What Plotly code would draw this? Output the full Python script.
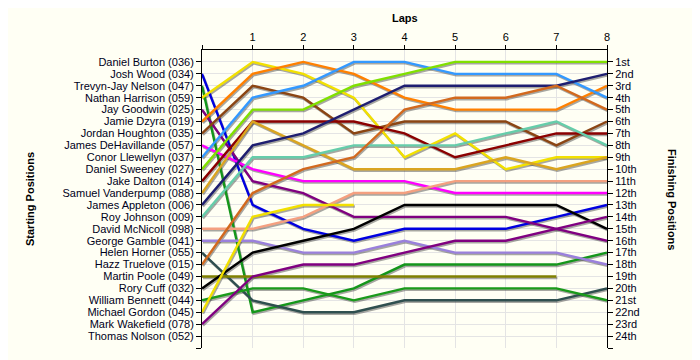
import plotly.graph_objects as go

# ---------------- data ----------------
laps = [0, 1, 2, 3, 4, 5, 6, 7, 8]
lap_labels = ["", "1", "2", "3", "4", "5", "6", "7", "8"]

drivers = [
    "Daniel Burton (036)", "Josh Wood (034)", "Trevyn-Jay Nelson (047)",
    "Nathan Harrison (059)", "Jay Goodwin (025)", "Jamie Dzyra (019)",
    "Jordan Houghton (035)", "James DeHavillande (057)", "Conor Llewellyn (037)",
    "Daniel Sweeney (027)", "Jake Dalton (014)", "Samuel Vanderpump (088)",
    "James Appleton (006)", "Roy Johnson (009)", "David McNicoll (098)",
    "George Gamble (041)", "Helen Horner (055)", "Hazz Truelove (015)",
    "Martin Poole (049)", "Rory Cuff (032)", "William Bennett (044)",
    "Michael Gordon (045)", "Mark Wakefield (078)", "Thomas Nolson (052)",
]

finish_labels = [
    "1st", "2nd", "3rd", "4th", "5th", "6th", "7th", "8th", "9th", "10th",
    "11th", "12th", "13th", "14th", "15th", "16th", "17th", "18th", "19th",
    "20th", "21st", "22nd", "23rd", "24th",
]

pos_burton     = [None, None, None, None, None, None, None, None, None]
pos_wood       = [2, 13, 15, 16, 15, 15, 15, 14, 13]
pos_nelson     = [3, 22, 21, 20, 18, 18, 18, 18, 17]
pos_harrison   = [4, 1, 2, 4, 9, 7, 10, 9, 9]
pos_goodwin    = [5, 11, 12, 14, 14, 14, 14, 15, 16]
pos_dzyra      = [6, 2, 1, 2, 4, 5, 5, 5, 3]
pos_houghton   = [7, 3, 4, 7, 6, 6, 6, 8, 6]
pos_dehav      = [8, 10, 11, 11, 11, 12, 12, 12, 12]
pos_llewellyn  = [9, 4, 3, 1, 1, 2, 2, 2, 4]
pos_sweeney    = [10, 5, 5, 3, 2, 1, 1, 1, 1]
pos_dalton     = [11, 6, 6, 6, 7, 9, 8, 7, 7]
pos_vanderpump = [12, 6, 8, 10, 10, 10, 9, 10, 9]
pos_appleton   = [13, 8, 7, 5, 3, 3, 3, 3, 2]
pos_johnson    = [14, 9, 9, 8, 8, 8, 7, 6, 8]
pos_mcnicoll   = [15, 15, 14, 12, 12, 11, 11, 11, 11]
pos_gamble     = [16, 16, 17, 17, 16, 17, 17, 17, 18]
pos_horner     = [17, 21, 22, 22, 21, 21, 21, 21, 20]
pos_truelove   = [18, 12, 10, 9, 5, 4, 4, 3, 5]
pos_poole      = [19, 19, 19, 19, 19, 19, 19, 19, None]
pos_cuff       = [20, 17, 16, 15, 13, 13, 13, 13, 15]
pos_bennett    = [21, 20, 20, 21, 20, 20, 20, 20, 21]
pos_gordon     = [22, 14, 13, 13, None, None, None, None, None]
pos_wakefield  = [23, 19, 18, 18, 17, 16, 16, 15, 14]
pos_nolson     = [None, None, None, None, None, None, None, None, None]

positions = [
    pos_burton, pos_wood, pos_nelson, pos_harrison, pos_goodwin, pos_dzyra,
    pos_houghton, pos_dehav, pos_llewellyn, pos_sweeney, pos_dalton,
    pos_vanderpump, pos_appleton, pos_johnson, pos_mcnicoll, pos_gamble,
    pos_horner, pos_truelove, pos_poole, pos_cuff, pos_bennett, pos_gordon,
    pos_wakefield, pos_nolson,
]

colors = [
    "#000000", "#0000e0", "#14961a", "#f2e000", "#800080", "#ff8000",
    "#8b4513", "#ff00ff", "#3399ff", "#80e000", "#8b0000",
    "#daa520", "#1e1e70", "#66cdaa", "#f4a080", "#9a80dc",
    "#2f4f4f", "#d2691e", "#808000", "#000000", "#1a9a1a", "#f2e000",
    "#800080", "#000000",
]

# ---------------- layout geometry ----------------
W, H = 700, 360
OFF = 8                      # default page body margin
PLOT_L, PLOT_T = 202, 50     # desired plot-area position in the window
PW, PH = 405, 298
ML, MT = PLOT_L - OFF, PLOT_T - OFF
MR, MB = W - ML - PW, H - MT - PH
X_MIN, X_MAX = 0, 8
Y_MIN, Y_MAX = 0, 25
dx = (X_MAX - X_MIN) / PW * 1.0      # shadow offset: 1 px right
dy = (Y_MAX - Y_MIN) / PH * 1.5      # shadow offset: 1.5 px down

FONT = "Liberation Sans, Arial, sans-serif"
BG = "#fffff4"
GRID = "#e4e4e4"

fig = go.Figure()

# shadows
for name, pos in zip(drivers, positions):
    if all(p is None for p in pos):
        continue
    fig.add_trace(go.Scatter(
        x=[l + dx for l in laps],
        y=[None if p is None else p + dy for p in pos],
        mode="lines",
        line=dict(color="rgba(60,60,60,0.45)", width=2.4),
        hoverinfo="skip", showlegend=False,
    ))

# lines
for name, pos, col in zip(drivers, positions, colors):
    if all(p is None for p in pos):
        continue
    fig.add_trace(go.Scatter(
        x=laps, y=pos, mode="lines", name=name,
        line=dict(color=col, width=2.4),
        showlegend=False,
    ))

# dummy trace for the right axis
fig.add_trace(go.Scatter(x=[None], y=[None], yaxis="y2", mode="markers",
                         showlegend=False, hoverinfo="skip"))

fig.update_layout(
    width=W, height=H,
    margin=dict(l=ML, r=MR, t=MT, b=MB, autoexpand=False),
    paper_bgcolor=BG, plot_bgcolor=BG,
    font=dict(family=FONT, size=11, color="#000000"),
    xaxis=dict(
        side="top", range=[X_MIN, X_MAX],
        tickvals=laps, ticktext=lap_labels,
        ticks="outside", ticklen=4, tickcolor="#000000",
        showline=True, linecolor="#000000", linewidth=1,
        showgrid=True, gridcolor=GRID, gridwidth=1,
        zeroline=False, tickfont=dict(size=11, family=FONT),
        fixedrange=True, automargin=False,
    ),
    yaxis=dict(
        range=[Y_MAX, Y_MIN],
        tickvals=list(range(1, 26)), ticktext=drivers + [""],
        ticks="outside", ticklen=5, tickcolor="#000000",
        showline=True, linecolor="#000000", linewidth=1,
        showgrid=True, gridcolor=GRID, gridwidth=1,
        zeroline=False, tickfont=dict(size=11, family=FONT, color="#000020"),
        fixedrange=True, automargin=False,
    ),
    yaxis2=dict(
        overlaying="y", side="right", range=[Y_MAX, Y_MIN],
        tickvals=list(range(1, 26)), ticktext=finish_labels + [""],
        ticks="outside", ticklen=5, tickcolor="#000000",
        showline=True, linecolor="#000000", linewidth=1,
        showgrid=False, zeroline=False,
        tickfont=dict(size=11, family=FONT, color="#000020"),
        fixedrange=True, automargin=False,
    ),
    annotations=[
        dict(text="<b>Laps</b>", xref="paper", yref="paper",
             x=0.5, y=1 + (PLOT_T - 18) / PH, showarrow=False,
             font=dict(size=11, family=FONT), xanchor="center", yanchor="middle"),
        dict(text="<b>Starting Positions</b>", xref="paper", yref="paper",
             x=(30 - PLOT_L) / PW, y=0.5, showarrow=False, textangle=-90,
             font=dict(size=11, family=FONT), xanchor="center", yanchor="middle"),
        dict(text="<b>Finishing Positions</b>", xref="paper", yref="paper",
             x=(672 - PLOT_L) / PW, y=0.5, showarrow=False, textangle=90,
             font=dict(size=11, family=FONT), xanchor="center", yanchor="middle"),
    ],
)

fig.write_html("out.html")
